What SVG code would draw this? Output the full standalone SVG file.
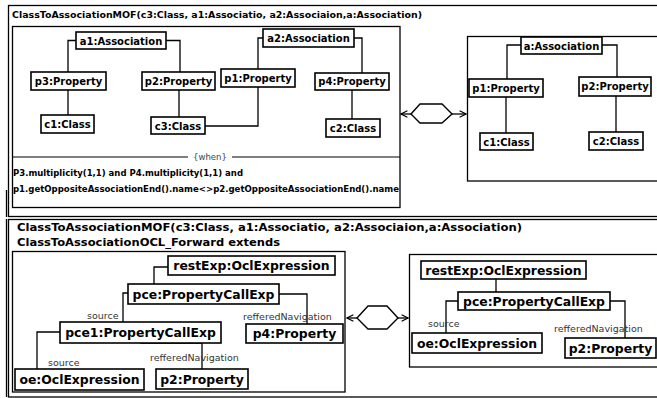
<svg xmlns="http://www.w3.org/2000/svg" width="657" height="398" viewBox="0 0 657 398">
<style>
.frame{fill:none;stroke:#000;stroke-width:1.3}
.node rect{fill:#fff;stroke:#000;stroke-width:1.6}
.node text{font-family:"DejaVu Sans",sans-serif;font-weight:bold;font-size:10px;text-anchor:middle;fill:#000}
.big text{font-size:12.4px}
.conn path{fill:none;stroke:#000;stroke-width:1.3}
.title{font-family:"DejaVu Sans",sans-serif;font-weight:bold;fill:#000}
.lbl{font-family:"DejaVu Sans",sans-serif;font-size:9.5px;fill:#333}
.hex{fill:#fff;stroke:#000;stroke-width:1.4}
</style>
<defs>
<marker id="open" viewBox="0 0 10 10" refX="9" refY="5" markerWidth="8" markerHeight="8" markerUnits="userSpaceOnUse" orient="auto">
<path d="M1,1 L9,5 L1,9" fill="none" stroke="#000" stroke-width="1.4"/>
</marker>
</defs>
<rect width="657" height="398" fill="#fff"/>

<!-- frames -->
<rect class="frame" x="8.5" y="5.5" width="660" height="211"/>
<rect class="frame" x="8.5" y="219.5" width="660" height="177.5"/>
<line class="frame" x1="6.5" y1="219" x2="6.5" y2="397"/>
<line class="frame" x1="6.5" y1="190" x2="6.5" y2="217"/>
<rect class="frame" x="12.5" y="26.5" width="387.5" height="181"/>
<rect class="frame" x="467.5" y="36.5" width="200" height="144.5"/>
<rect class="frame" x="12.5" y="251.5" width="332.5" height="140.5"/>
<rect class="frame" x="409.5" y="254.5" width="260" height="112.5"/>

<text class="title" x="12" y="18" font-size="9" textLength="410" lengthAdjust="spacingAndGlyphs">ClassToAssociationMOF(c3:Class, a1:Associatio, a2:Associaion,a:Association)</text>
<text class="title" x="17" y="231" font-size="11" textLength="505" lengthAdjust="spacingAndGlyphs">ClassToAssociationMOF(c3:Class, a1:Associatio, a2:Associaion,a:Association)</text>
<text class="title" x="17" y="246" font-size="11" textLength="263" lengthAdjust="spacingAndGlyphs">ClassToAssociationOCL_Forward extends</text>

<!-- when compartment -->
<line x1="13" y1="157" x2="188" y2="157" stroke="#000" stroke-width="1.2"/>
<line x1="232" y1="157" x2="400" y2="157" stroke="#000" stroke-width="1.2"/>
<text x="210" y="160" font-family="DejaVu Sans, sans-serif" font-size="8.5" fill="#444" text-anchor="middle">{when}</text>
<text class="title" x="13" y="176" font-size="8.8" textLength="230" lengthAdjust="spacingAndGlyphs">P3.multiplicity(1,1) and P4.multiplicity(1,1) and</text>
<text class="title" x="13" y="192" font-size="8.8" textLength="386" lengthAdjust="spacingAndGlyphs">p1.getOppositeAssociationEnd().name&lt;&gt;p2.getOppositeAssociationEnd().name</text>

<!-- connectors -->
<g class="conn">
<path d="M76,40.5 H68 V72"/>
<path d="M166,40.5 H180 V72"/>
<path d="M68,90 V115"/>
<path d="M179,90 V117"/>
<path d="M205,126 H258 V87"/>
<path d="M263,38 H258 V69"/>
<path d="M354,38 H362 V73"/>
<path d="M352,90 V119"/>
<path d="M521,45 H507 V79"/>
<path d="M602,45 H617 V77"/>
<path d="M506,97 V133"/>
<path d="M616,96 V132"/>
<path d="M411,114 H401" marker-end="url(#open)"/>
<path d="M452,114 H466" marker-end="url(#open)"/>
<path d="M168,267 H154 V284"/>
<path d="M128,293 H123 V322"/>
<path d="M279,294 H307 V324"/>
<path d="M60,332 H37 V369"/>
<path d="M141,339 V343 H202 V369"/>
<path d="M496,279 V292"/>
<path d="M458,301 H446 V333"/>
<path d="M610,301 H625 V338"/>
<path d="M357,318 H347" marker-end="url(#open)"/>
<path d="M398,318 H408" marker-end="url(#open)"/>
</g>

<polygon id="hex1" class="hex" points="411,114 420,104 442,104 452,114 442,123 420,123"/>
<polygon id="hex2" class="hex" points="357,318 368,306 387,306 398,318 387,329 368,329"/>

<!-- top left nodes -->
<g id="a1" class="node"><rect x="76" y="32" width="90" height="17"/><text x="121" y="44.5">a1:Association</text></g>
<g id="p3" class="node"><rect x="31" y="72" width="75" height="18"/><text x="68.5" y="84.5">p3:Property</text></g>
<g id="p2" class="node"><rect x="142" y="72" width="73" height="18"/><text x="178.5" y="84.5">p2:Property</text></g>
<g id="c1" class="node"><rect x="41" y="115" width="53" height="18"/><text x="67.5" y="127.5">c1:Class</text></g>
<g id="c3" class="node"><rect x="151" y="117" width="54" height="17"/><text x="178" y="129.5">c3:Class</text></g>
<g id="a2" class="node"><rect x="263" y="29" width="91" height="18"/><text x="308.5" y="41.5">a2:Association</text></g>
<g id="p1" class="node"><rect x="221" y="69" width="74" height="18"/><text x="258" y="81.5">p1:Property</text></g>
<g id="p4" class="node"><rect x="315" y="73" width="74" height="17"/><text x="352" y="85">p4:Property</text></g>
<g id="c2" class="node"><rect x="326" y="119" width="54" height="18"/><text x="353" y="131.5">c2:Class</text></g>

<!-- top right nodes -->
<g id="a" class="node"><rect x="521" y="37" width="81" height="17"/><text x="561.5" y="49.5">a:Association</text></g>
<g id="rp1" class="node"><rect x="469" y="79" width="74" height="18"/><text x="506" y="91.5">p1:Property</text></g>
<g id="rp2" class="node"><rect x="579" y="77" width="72" height="19"/><text x="615" y="90">p2:Property</text></g>
<g id="rc1" class="node"><rect x="480" y="133" width="53" height="17"/><text x="506.5" y="145.5">c1:Class</text></g>
<g id="rc2" class="node"><rect x="589" y="132" width="54" height="18"/><text x="616" y="144.5">c2:Class</text></g>

<!-- bottom left nodes -->
<g id="restExp" class="node big"><rect x="168" y="256" width="167" height="19"/><text x="251.5" y="270">restExp:OclExpression</text></g>
<g id="pce" class="node big"><rect x="128" y="284" width="151" height="20"/><text x="203.5" y="298.5">pce:PropertyCallExp</text></g>
<g id="pce1" class="node big"><rect x="60" y="322" width="161" height="21"/><text x="140.5" y="337">pce1:PropertyCallExp</text></g>
<g id="bp4" class="node big"><rect x="246" y="324" width="97" height="19"/><text x="294.5" y="338">p4:Property</text></g>
<g id="oe" class="node big"><rect x="15" y="369" width="129" height="21"/><text x="79.5" y="384">oe:OclExpression</text></g>
<g id="bp2" class="node big"><rect x="156" y="369" width="92" height="20"/><text x="202" y="383.5">p2:Property</text></g>

<!-- bottom right nodes -->
<g id="rrestExp" class="node big"><rect x="421" y="261" width="165" height="18"/><text x="503.5" y="274.5">restExp:OclExpression</text></g>
<g id="rpce" class="node big"><rect x="458" y="292" width="152" height="18"/><text x="534" y="305.5">pce:PropertyCallExp</text></g>
<g id="roe" class="node big"><rect x="412" y="333" width="130" height="20"/><text x="477" y="347.5">oe:OclExpression</text></g>
<g id="rbp2" class="node big"><rect x="565" y="338" width="91" height="20"/><text x="610.5" y="352.5">p2:Property</text></g>

<!-- labels -->
<text class="lbl" x="87" y="319">source</text>
<text class="lbl" x="243" y="320">refferedNavigation</text>
<text class="lbl" x="48" y="366">source</text>
<text class="lbl" x="150" y="361">refferedNavigation</text>
<text class="lbl" x="428" y="327">source</text>
<text class="lbl" x="554" y="332">refferedNavigation</text>
</svg>
